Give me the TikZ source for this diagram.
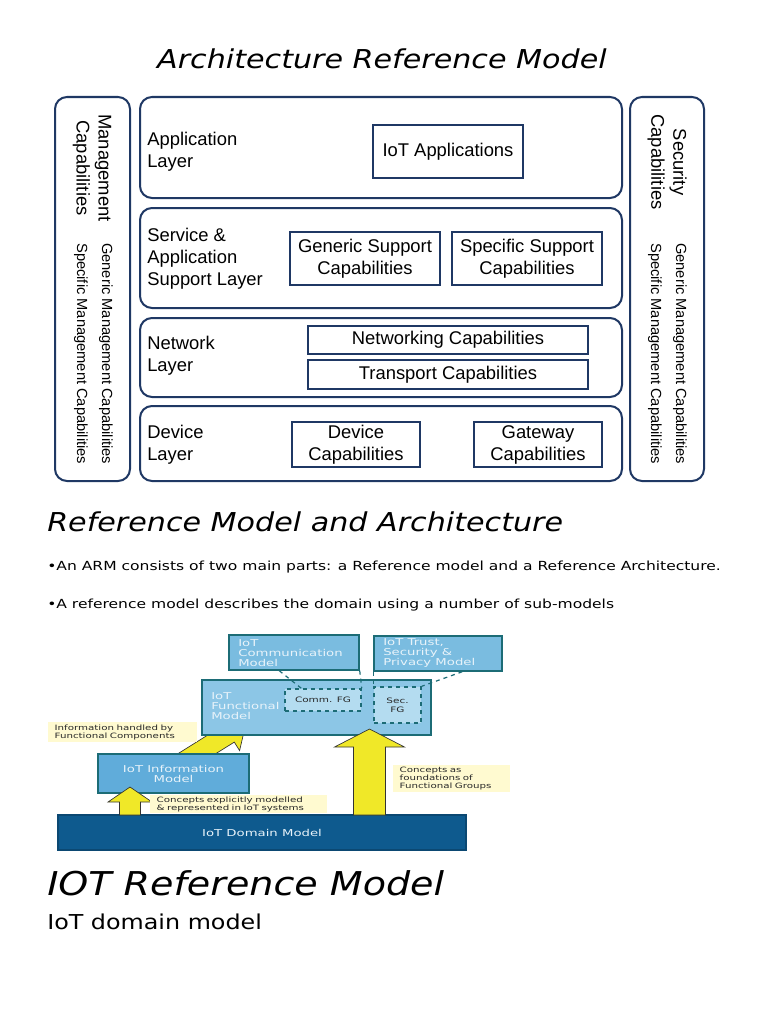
\documentclass[tikz,border=0pt]{standalone}
\usepackage{fontspec}
\setmainfont{DejaVu Sans}
\newfontfamily\arialf{Liberation Sans}
\newfontfamily\widef[FakeStretch=1.4]{DejaVu Sans}
\newfontfamily\headf[FakeStretch=1.16]{DejaVu Sans}
\newfontfamily\bulf[FakeStretch=1.24]{DejaVu Sans}
\usetikzlibrary{calc}
\definecolor{navy}{RGB}{31,56,100}
\definecolor{domblue}{RGB}{14,90,142}
\definecolor{infoblue}{RGB}{96,172,218}
\definecolor{funcblue}{RGB}{140,198,230}
\definecolor{modblue}{RGB}{122,188,224}
\definecolor{fgblue}{RGB}{180,220,240}
\definecolor{tealb}{RGB}{28,108,118}
\definecolor{arrowyel}{RGB}{240,232,40}
\definecolor{labelbg}{RGB}{255,250,208}
\definecolor{boxtxt}{RGB}{232,243,250}
\definecolor{labtxt}{RGB}{40,40,40}
\begin{document}
\begin{tikzpicture}[x=0.75pt,y=-0.75pt,
  panel/.style={draw=navy, line width=1.5pt, rounded corners=9pt, inner sep=0},
  capbox/.style={draw=navy, line width=1.5pt, inner sep=0, align=center, font=\arialf\fontsize{13.8pt}{16.5pt}\selectfont},
  lyrtxt/.style={anchor=west, align=left, inner sep=0, font=\arialf\fontsize{13.8pt}{16.5pt}\selectfont},
  vtitle/.style={rotate=-90, align=center, inner sep=0, font=\arialf\fontsize{13.8pt}{16.5pt}\selectfont},
  vsub/.style={rotate=-90, anchor=west, inner sep=0, font=\arialf\fontsize{11pt}{13pt}\selectfont},
  heading/.style={anchor=base west, inner sep=0, font=\headf\itshape\fontsize{19.5pt}{23pt}\selectfont},
  bullet/.style={anchor=base west, inner sep=0, font=\bulf\fontsize{9.4pt}{11pt}\selectfont},
  mbox/.style={draw=tealb, line width=1.1pt, inner sep=0},
  fgbox/.style={draw=tealb, dashed, line width=1.1pt, fill=fgblue, inner sep=0, align=center, text=labtxt, font=\widef\fontsize{5.6pt}{6.5pt}\selectfont},
  btxt/.style={align=left, inner sep=0, text=boxtxt, font=\widef\fontsize{7.1pt}{7.5pt}\selectfont},
  labelbox/.style={fill=labelbg, inner xsep=5pt, inner ysep=0, align=left, text=labtxt, font=\widef\fontsize{5.5pt}{6pt}\selectfont},
  callout/.style={draw=tealb, dashed, line width=0.9pt},
  yarrow/.style={fill=arrowyel, draw=black!80, line width=0.5pt, line join=miter}
]
\fill[white] (0,0) rectangle (768,1024);
\useasboundingbox (0,0) rectangle (768,1024);

% ---------- Title ----------
\node[anchor=base, inner sep=0, font=\headf\itshape\fontsize{19.5pt}{23pt}\selectfont] (title) at (382,68.5) {Architecture Reference Model};

% ---------- Top diagram ----------
\node[panel, minimum width=56.25pt, minimum height=288pt] (mgmt) at (92.5,289) {};
\node[panel, minimum width=55.5pt, minimum height=288pt] (secp) at (667,289) {};
\node[panel, minimum width=361.5pt, minimum height=75.75pt] (applayer) at (381,147.5) {};
\node[panel, minimum width=361.5pt, minimum height=75pt] (svclayer) at (381,258) {};
\node[panel, minimum width=361.5pt, minimum height=59.25pt] (netlayer) at (381,357.5) {};
\node[panel, minimum width=361.5pt, minimum height=56.25pt] (devlayer) at (381,443.5) {};

\node[capbox, minimum width=112.5pt, minimum height=39.75pt] (iotapps) at (448,151.5) {IoT Applications};
\node[capbox, minimum width=112.5pt, minimum height=39.75pt] (gensup) at (365,258.5) {Generic Support\\Capabilities};
\node[capbox, minimum width=112.5pt, minimum height=39.75pt] (specsup) at (527,258.5) {Specific Support\\Capabilities};
\node[capbox, minimum width=210pt, minimum height=21pt] (netcap) at (448,340) {Networking Capabilities};
\node[capbox, minimum width=210pt, minimum height=21.75pt] (transcap) at (448,374.5) {Transport Capabilities};
\node[capbox, minimum width=96pt, minimum height=33.75pt] (devcap) at (356,444.5) {Device\\Capabilities};
\node[capbox, minimum width=96pt, minimum height=33.75pt] (gwcap) at (538,444.5) {Gateway\\Capabilities};

\node[lyrtxt] (applbl) at (147,152) {Application\\Layer};
\node[lyrtxt] (svclbl) at (147,259) {Service \&\\Application\\Support Layer};
\node[lyrtxt] (netlbl) at (147,356) {Network\\Layer};
\node[lyrtxt] (devlbl) at (147,445) {Device\\Layer};

\node[vtitle] (mgmttitle) at (92,168) {Management\\Capabilities};
\node[vsub] (mgmtgen) at (106,243) {Generic Management Capabilities};
\node[vsub] (mgmtspec) at (81,243) {Specific Management Capabilities};
\node[vtitle] (sectitle) at (667,162) {Security\\Capabilities};
\node[vsub] (secgen) at (680,243) {Generic Management Capabilities};
\node[vsub] (secspec) at (655,243) {Specific Management Capabilities};

% ---------- Section text ----------
\node[heading] (h2) at (47,531) {Reference Model and Architecture};
\node[bullet] (b1) at (47,570) {•An ARM consists of two main parts: a Reference model and a Reference Architecture.};
\node[bullet] (b2) at (47,608) {•A reference model describes the domain using a number of sub-models};

% ---------- Lower diagram ----------
% diagonal arrow (behind information model box)
\draw[yarrow] (246,723) -- (239.6,750.6) -- (234.3,742.1) -- (179.2,776.5) -- (168.6,759.5) -- (223.7,725.1) -- (218.4,716.6) -- cycle;

\node[mbox, fill=funcblue, minimum width=171.75pt, minimum height=41.25pt] (func) at (316.5,707.5) {};
\node[btxt, anchor=west] (functxt) at (211,706) {IoT\\Functional\\Model};
\node[mbox, fill=modblue, minimum width=97.5pt, minimum height=26.25pt] (comm) at (294,652.5) {};
\node[btxt, anchor=west] (commtxt) at (238,653) {IoT\\Communication\\Model};
\node[mbox, fill=modblue, minimum width=96pt, minimum height=26.25pt] (trust) at (438,653.5) {};
\node[btxt, anchor=west] (trusttxt) at (383,653) {IoT Trust,\\Security \&\\Privacy Model};
\node[fgbox, minimum width=57pt, minimum height=16.5pt] (commfg) at (323,700) {Comm. FG};
\node[fgbox, minimum width=35.25pt, minimum height=27pt] (secfg) at (397.5,705) {Sec.\\FG};

\draw[callout] ($(comm.south west)+(51,0)$) -- ($(commfg.north west)+(17,0)$);
\draw[callout] (comm.south east) -- (commfg.north east);
\draw[callout] (trust.south west) -- (secfg.north west);
\draw[callout] ($(trust.south west)+(89,0)$) -- (secfg.north east);

\node[mbox, fill=infoblue, minimum width=113.25pt, minimum height=29.25pt] (info) at (173.5,773.5) {};
\node[btxt, align=center] (infotxt) at (173.5,773.5) {IoT Information\\Model};

\node[mbox, draw=domblue!80!black, fill=domblue, minimum width=306pt, minimum height=26.25pt, text=boxtxt, font=\widef\fontsize{7.1pt}{7.5pt}\selectfont] (dom) at (262,832.5) {IoT Domain Model};

% vertical arrows
\draw[yarrow] (130,787) -- (152,802) -- (140.5,802) -- (140.5,815) -- (119.5,815) -- (119.5,802) -- (108,802) -- cycle;
\draw[yarrow] (369.5,729) -- (404.5,747) -- (385.5,747) -- (385.5,815) -- (353.5,815) -- (353.5,747) -- (334.5,747) -- cycle;

% labels
\node[labelbox, minimum width=111.75pt, minimum height=15pt, text width=101.75pt] (lab1) at (122.5,732) {Information handled by\\Functional Components};
\node[labelbox, minimum width=132.75pt, minimum height=13.5pt, text width=122.75pt] (lab2) at (238.5,804) {Concepts explicitly modelled\\\& represented in IoT systems};
\node[labelbox, minimum width=87.75pt, minimum height=20.25pt, text width=77.75pt] (lab3) at (451.5,778.5) {Concepts as\\foundations of\\Functional Groups};

% ---------- Bottom text ----------
\node[anchor=base west, inner sep=0, font=\headf\itshape\fontsize{24.6pt}{30pt}\selectfont] (h3) at (47,895) {IOT Reference Model};
\node[anchor=base west, inner sep=0, font=\headf\fontsize{15.4pt}{18pt}\selectfont] (h4) at (47,929) {IoT domain model};
\end{tikzpicture}
\end{document}
